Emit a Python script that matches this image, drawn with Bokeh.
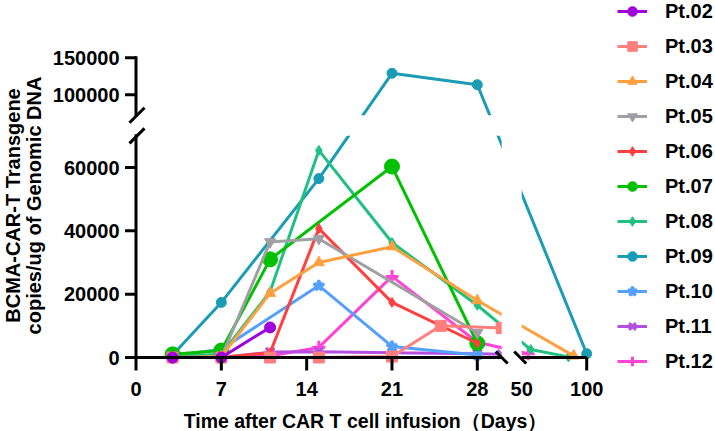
import numpy as np
from bokeh.plotting import figure
from bokeh.models import Range1d, Legend, LegendItem
from bokeh.core.properties import value
from bokeh.embed import file_html
from bokeh.resources import INLINE

# ---------------- data (days after infusion, copies/ug gDNA) ----------------
names = ["Pt.02", "Pt.03", "Pt.04", "Pt.05", "Pt.06", "Pt.07",
         "Pt.08", "Pt.09", "Pt.10", "Pt.11", "Pt.12"]

days_02 = [3, 7, 11]
vals_02 = [0, 0, 9500]
days_03 = [3, 7, 11, 15, 21, 25, 30]
vals_03 = [0, 0, 0, 0, 300, 10000, 9300]
days_04 = [3, 7, 11, 15, 21, 28, 90]
vals_04 = [0, 300, 20300, 30000, 35000, 18000, 500]
days_05 = [3, 7, 11, 15, 28]
vals_05 = [0, 0, 36500, 37500, 7800]
days_06 = [3, 7, 11, 15, 21, 28]
vals_06 = [0, 0, 1500, 40700, 17400, 4500]
days_07 = [3, 7, 11, 21, 28]
vals_07 = [1000, 2200, 31000, 60300, 4500]
days_08 = [3, 7, 11, 15, 21, 28, 57, 86]
vals_08 = [300, 1000, 20800, 65400, 36300, 16500, 2500, 200]
days_09 = [3, 7, 15, 21, 28, 100]
vals_09 = [800, 17400, 56500, 129000, 113500, 1200]
days_10 = [3, 7, 15, 21, 28]
vals_10 = [500, 2600, 22700, 3500, 800]
days_11 = [3, 7, 11, 15, 21, 28, 30]
vals_11 = [0, 0, 1700, 1800, 1500, 1200, 1000]
days_12 = [3, 7, 11, 15, 21, 28, 55]
vals_12 = [0, 0, 500, 3200, 25600, 4800, 1200]

all_days = [days_02, days_03, days_04, days_05, days_06, days_07,
            days_08, days_09, days_10, days_11, days_12]
all_vals = [vals_02, vals_03, vals_04, vals_05, vals_06, vals_07,
            vals_08, vals_09, vals_10, vals_11, vals_12]

colors = ["#a000dc", "#ff7f7f", "#ffa040", "#a0a0a4", "#ff4040", "#00c000",
          "#20c080", "#1a9cb4", "#55a0ff", "#b44fe0", "#ff45d5"]
markers = ["circle", "square", "triangle", "inverted_triangle", "diamond", "circle",
           "diamond", "circle", "star", "x", "cross"]
msizes = [11, 11, 11, 11, 10, 15, 10, 10, 11, 12, 13]

xtick_days = [0, 7, 14, 21, 28, 50, 100]
xtick_labels = ["0", "7", "14", "21", "28", "50", "100"]
ytick_vals = [0, 20000, 40000, 60000, 100000, 150000]
ytick_labels = ["0", "20000", "40000", "60000", "100000", "150000"]
x_title = "Time after CAR T cell infusion（Days）"
y_title_1 = "BCMA-CAR-T Transgene"
y_title_2 = "copies/ug of Genomic DNA"

# ---------------- broken-axis scales ----------------
X_LO_END, X_HI_START, X_END = 30.0, 50.0, 100.0
PX_PER_DAY = 12.19
X_GAP_PX, X_SEG2_PX = 20.0, 65.0
X_HI_U0 = X_LO_END + X_GAP_PX / PX_PER_DAY
X_HI_K = (X_SEG2_PX / PX_PER_DAY) / (X_END - X_HI_START)

Y_LO_END, Y_HI_START, Y_END = 70000.0, 72000.0, 150000.0
PX_PER_UNIT = 190.0 / 60000.0
Y_GAP_PX, Y_SEG2_PX = 20.6, 57.4
Y_HI_V0 = Y_LO_END + Y_GAP_PX / PX_PER_UNIT
Y_HI_K = (Y_SEG2_PX / PX_PER_UNIT) / (Y_END - Y_HI_START)


def xu(d):
    d = np.asarray(d, dtype=float)
    return np.where(d <= X_LO_END, d, X_HI_U0 + (d - X_HI_START) * X_HI_K)


def yv(v):
    v = np.asarray(v, dtype=float)
    return np.where(v <= Y_LO_END, v, Y_HI_V0 + (v - Y_HI_START) * Y_HI_K)


def dx(px):  # pixel length -> x units
    return px / PX_PER_DAY


def dy(px):  # pixel length -> y units
    return px / PX_PER_UNIT


W, H = 715, 431
X0_PX, Y0_PX = 135.5, 357.0  # where day 0 / value 0 sit on the page


def ux(px):
    return (px - X0_PX) / PX_PER_DAY


def vy(py):
    return (Y0_PX - py) / PX_PER_UNIT


x_start, x_end = ux(0), ux(W)
y_start, y_end = vy(H), vy(0)

p = figure(width=W, height=H, output_backend="svg", toolbar_location=None,
           x_range=Range1d(x_start, x_end), y_range=Range1d(y_start, y_end),
           x_axis_location=None, y_axis_location=None,
           min_border_left=0, min_border_right=0, min_border_top=0,
           min_border_bottom=0, title=None)
p.outline_line_color = None
p.xgrid.visible = False
p.ygrid.visible = False
p.background_fill_color = "white"

FONT = "Liberation Sans"

# ---------------- series (drawn last-first so Pt.02 is on top) ----------------
rends = {}
for i in reversed(range(len(names))):
    xs = xu(all_days[i])
    ys = yv(all_vals[i])
    lr = p.line(xs, ys, line_color=colors[i], line_width=3)
    lw = 3 if markers[i] in ("x", "cross", "star") else 1
    sr = p.scatter(xs, ys, marker=markers[i], size=msizes[i],
                   line_color=colors[i], fill_color=colors[i], line_width=lw)
    rends[i] = [lr, sr]

# ---------------- break gaps (white bands hide lines) ----------------
p.quad(left=[X_LO_END], right=[X_HI_U0], bottom=[y_start], top=[y_end],
       fill_color="white", line_color=None)
p.quad(left=[x_start], right=[x_end], bottom=[Y_LO_END], top=[Y_HI_V0],
       fill_color="white", line_color=None)

# ---------------- axis lines, breaks, ticks ----------------
AX = dict(line_color="black", line_width=3)
# y axis segments
p.segment(x0=[0, 0], y0=[0, Y_HI_V0], x1=[0, 0],
          y1=[Y_LO_END, float(yv(Y_END))], line_cap="square", **AX)
# x axis segments
p.segment(x0=[0, X_HI_U0], y0=[0, 0], x1=[X_LO_END, float(xu(X_END))],
          y1=[0, 0], **AX)
# y break slashes "/"
yby = [Y_LO_END, Y_HI_V0]
p.segment(x0=[dx(1.0 - 7.5)] * 2, y0=[b - dy(7.5) for b in yby],
          x1=[dx(1.0 + 7.5)] * 2, y1=[b + dy(7.5) for b in yby], **AX)
# x break slashes "\"
xbx = [X_LO_END, X_HI_U0 - dx(1.5)]
p.segment(x0=[b - dx(6) for b in xbx], y0=[dy(6), dy(6)],
          x1=[b + dx(6) for b in xbx], y1=[-dy(6), -dy(6)], **AX)
# x tick marks (none at the start of the second segment)
tick_days_marked = [d for d in xtick_days if d != X_HI_START]
tx = list(xu(tick_days_marked))
p.segment(x0=tx, y0=[0] * len(tx), x1=tx, y1=[-dy(13)] * len(tx), **AX)
# y tick marks
ty = list(yv(ytick_vals))
p.segment(x0=[0] * len(ty), y0=ty, x1=[-dx(11)] * len(ty), y1=ty, **AX)

# ---------------- tick labels ----------------
TXT = dict(text_font=value(FONT), text_font_style="bold", text_color="black")
p.text(x=list(xu(xtick_days)), y=[vy(388)] * len(xtick_days), text=xtick_labels,
       text_align="center", text_baseline="middle", text_font_size="20px", **TXT)
p.text(x=[ux(119)] * len(ytick_vals), y=ty, text=ytick_labels,
       text_align="right", text_baseline="middle", text_font_size="20px", **TXT)

# ---------------- axis titles ----------------
p.text(x=[ux(365)], y=[vy(420)], text=[x_title], text_align="center",
       text_baseline="middle", text_font_size="19.5px", **TXT)
p.text(x=[ux(12), ux(33)], y=[vy(205), vy(205)], text=[y_title_1, y_title_2],
       angle=np.pi / 2, text_align="center", text_baseline="middle",
       text_font_size="20px", **TXT)

# ---------------- legend ----------------
items = [LegendItem(label=names[i], renderers=rends[i]) for i in range(len(names))]
legend = Legend(items=items, location=(617, 58), orientation="vertical",
                glyph_width=30, glyph_height=24, label_height=24, spacing=11,
                label_standoff=18, padding=0, margin=0, border_line_color=None,
                background_fill_alpha=0, label_text_font=FONT,
                label_text_font_style="bold", label_text_font_size="20px",
                label_text_color="black")
p.add_layout(legend)

open("out.html", "w").write(file_html(p, INLINE))
